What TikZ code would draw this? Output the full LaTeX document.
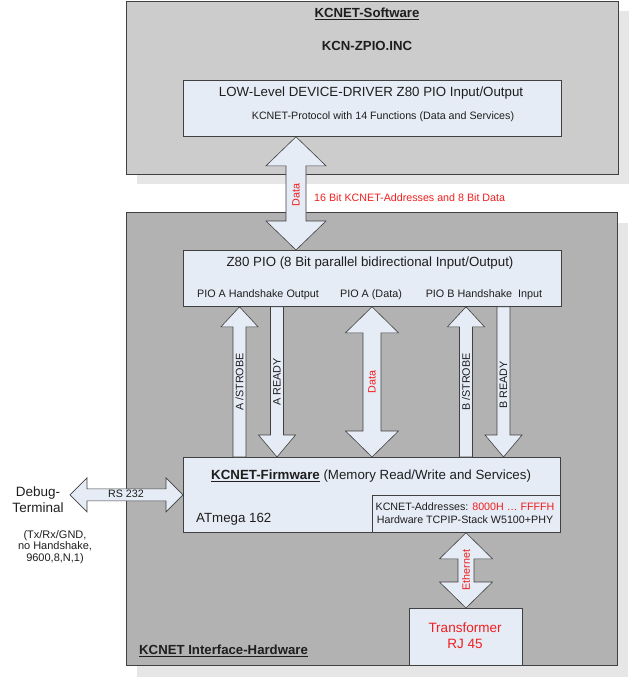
\documentclass[tikz,border=0pt]{standalone}
\usepackage{fontspec}
\setmainfont{Liberation Sans}
\usetikzlibrary{calc}
\definecolor{topgray}{RGB}{204,204,204}
\definecolor{hwgray}{RGB}{178,178,178}
\definecolor{shadowgray}{RGB}{230,230,230}
\definecolor{boxblue}{RGB}{230,236,246}
\definecolor{edgegray}{RGB}{64,64,64}
\definecolor{txt}{RGB}{30,30,30}
\definecolor{redtxt}{RGB}{240,30,30}
\newcommand{\vdbl}[6]{% x, top node, bottom node, head half, shaft half, head length
  \path[barrow] let \p1=(#2.south), \p2=(#3.north) in
  (#1pt,\y1) -- (#1pt+#4pt,\y1-#6pt) -- (#1pt+#5pt,\y1-#6pt) -- (#1pt+#5pt,\y2+#6pt)
  -- (#1pt+#4pt,\y2+#6pt) -- (#1pt,\y2) -- (#1pt-#4pt,\y2+#6pt) -- (#1pt-#5pt,\y2+#6pt)
  -- (#1pt-#5pt,\y1-#6pt) -- (#1pt-#4pt,\y1-#6pt) -- cycle;}
\newcommand{\vup}[6]{%
  \path[barrow] let \p1=(#2.south), \p2=(#3.north) in
  (#1pt,\y1) -- (#1pt+#4pt,\y1-#6pt) -- (#1pt+#5pt,\y1-#6pt) -- (#1pt+#5pt,\y2)
  -- (#1pt-#5pt,\y2) -- (#1pt-#5pt,\y1-#6pt) -- (#1pt-#4pt,\y1-#6pt) -- cycle;}
\newcommand{\vdown}[6]{%
  \path[barrow] let \p1=(#2.south), \p2=(#3.north) in
  (#1pt-#5pt,\y1) -- (#1pt+#5pt,\y1) -- (#1pt+#5pt,\y2+#6pt) -- (#1pt+#4pt,\y2+#6pt)
  -- (#1pt,\y2) -- (#1pt-#4pt,\y2+#6pt) -- (#1pt-#5pt,\y2+#6pt) -- cycle;}
\begin{document}
\begin{tikzpicture}[x=1pt,y=-1pt,
  outerbox/.style={draw=edgegray, line width=0.9pt, anchor=north west, inner sep=0pt},
  bluebox/.style={draw=edgegray, fill=boxblue, line width=0.8pt, anchor=north west, inner sep=0pt},
  barrow/.style={draw=edgegray, fill=boxblue, line width=0.6pt, line join=miter},
  lbl/.style={text=txt, inner sep=0pt, font=\fontsize{10.8}{13}\selectfont},
  biglbl/.style={text=txt, inner sep=0pt, font=\fontsize{13.3}{15}\selectfont},
  smalllbl/.style={text=txt, inner sep=0pt, font=\fontsize{10.7}{12}\selectfont},
  redlbl/.style={text=redtxt, inner sep=0pt, font=\fontsize{10.7}{12}\selectfont},
  vlbl/.style={text=txt, inner sep=0pt, rotate=90, font=\fontsize{10.8}{13}\selectfont},
  titlelbl/.style={text=txt, inner sep=0pt, font=\fontsize{13.2}{15}\selectfont\bfseries}]
\useasboundingbox (0,0) rectangle (639,677);
% shadows
\fill[shadowgray] (137,11) rectangle (629,184);
\fill[shadowgray] (137,223) rectangle (628,677);
% outer boxes
\node[outerbox, fill=topgray, minimum width=492pt, minimum height=173pt] (sw) at (126,1) {};
\node[outerbox, fill=hwgray, minimum width=491pt, minimum height=453pt] (hw) at (126,212) {};
% inner boxes
\node[bluebox, minimum width=378pt, minimum height=56pt] (low) at (183,80) {};
\node[bluebox, minimum width=378pt, minimum height=56pt] (pio) at (183,250) {};
\node[bluebox, minimum width=377pt, minimum height=75pt] (fw) at (183,457) {};
\node[bluebox, minimum width=188pt, minimum height=37pt] (addr) at (372,495) {};
\node[bluebox, minimum width=113pt, minimum height=57pt] (trafo) at (409,608) {};
\coordinate (dbgend) at (70,495);
% block arrows
\vdbl{296}{low}{pio}{30}{10}{29}
\vup{239.5}{pio}{fw}{18.5}{6.5}{20}
\vdown{277}{pio}{fw}{18.5}{6.5}{22}
\vdbl{372}{pio}{fw}{26.5}{9}{26}
\vup{466}{pio}{fw}{18.5}{6.5}{20}
\vdown{503.5}{pio}{fw}{18.5}{6.5}{22}
\vdbl{466}{addr}{trafo}{26.5}{8}{26}
\path[barrow] let \p1=(dbgend), \p2=(fw.west) in
  (\x1,\y2) -- (\x1+17pt,\y2+17pt) -- (\x1+17pt,\y2+6pt) -- (\x2-17pt,\y2+6pt)
  -- (\x2-17pt,\y2+17pt) -- (\x2,\y2) -- (\x2-17pt,\y2-17pt) -- (\x2-17pt,\y2-6pt)
  -- (\x1+17pt,\y2-6pt) -- (\x1+17pt,\y2-17pt) -- cycle;
% texts
\node[titlelbl] (swt) at (367,14) {\underline{KCNET-Software}};
\node[titlelbl] (inc) at (367,46) {KCN-ZPIO.INC};
\node[biglbl] (lowt) at (371,93) {LOW-Level DEVICE-DRIVER Z80 PIO Input/Output};
\node[smalllbl] (lowp) at (383,117) {KCNET-Protocol with 14 Functions (Data and Services)};
\node[redlbl, rotate=90] (dlbl1) at (296,195) {Data};
\node[redlbl, anchor=west] (buslbl) at (314,198) {16 Bit KCNET-Addresses and 8 Bit Data};
\node[biglbl] (piot) at (370,263) {Z80 PIO (8 Bit parallel bidirectional Input/Output)};
\node[lbl] (pioa) at (258,295) {PIO A Handshake Output};
\node[lbl] (piod) at (371,295) {PIO A (Data)};
\node[lbl] (piob) at (484,295) {PIO B Handshake\ \ Input};
\node[vlbl] (astr) at (239.5,382) {A /STROBE};
\node[vlbl] (ardy) at (277,382) {A READY};
\node[redlbl, rotate=90] (dlbl2) at (372,382) {Data};
\node[vlbl] (bstr) at (466,382) {B /STROBE};
\node[vlbl] (brdy) at (503.5,385) {B READY};
\node[biglbl, anchor=west] (fwt) at (211,476) {{\bfseries\underline{KCNET-Firmware}} (Memory Read/Write and Services)};
\node[biglbl, anchor=west] (atm) at (196,519) {ATmega 162};
\node[smalllbl] (addr1) at (465,507) {KCNET-Addresses: \textcolor{redtxt}{8000H … FFFFH}};
\node[smalllbl] (addr2) at (465,520) {Hardware TCPIP-Stack W5100+PHY};
\node[redlbl, rotate=90] (eth) at (466,570) {Ethernet};
\node[biglbl, text=redtxt, align=center, font=\fontsize{13.5}{15.5}\selectfont] (trt) at (465,635.5) {Transformer\\RJ 45};
\node[titlelbl, anchor=west] (hwt) at (139,651) {\underline{KCNET Interface-Hardware}};
\node[smalllbl] (rs) at (126,494) {RS 232};
\node[biglbl, align=center, font=\fontsize{13.5}{16}\selectfont] (dbg) at (38,500) {Debug-\\Terminal};
\node[smalllbl, align=center, font=\fontsize{11}{11.7}\selectfont] (par) at (55,547) {(Tx/Rx/GND,\\no Handshake,\\9600,8,N,1)};
\end{tikzpicture}
\end{document}
